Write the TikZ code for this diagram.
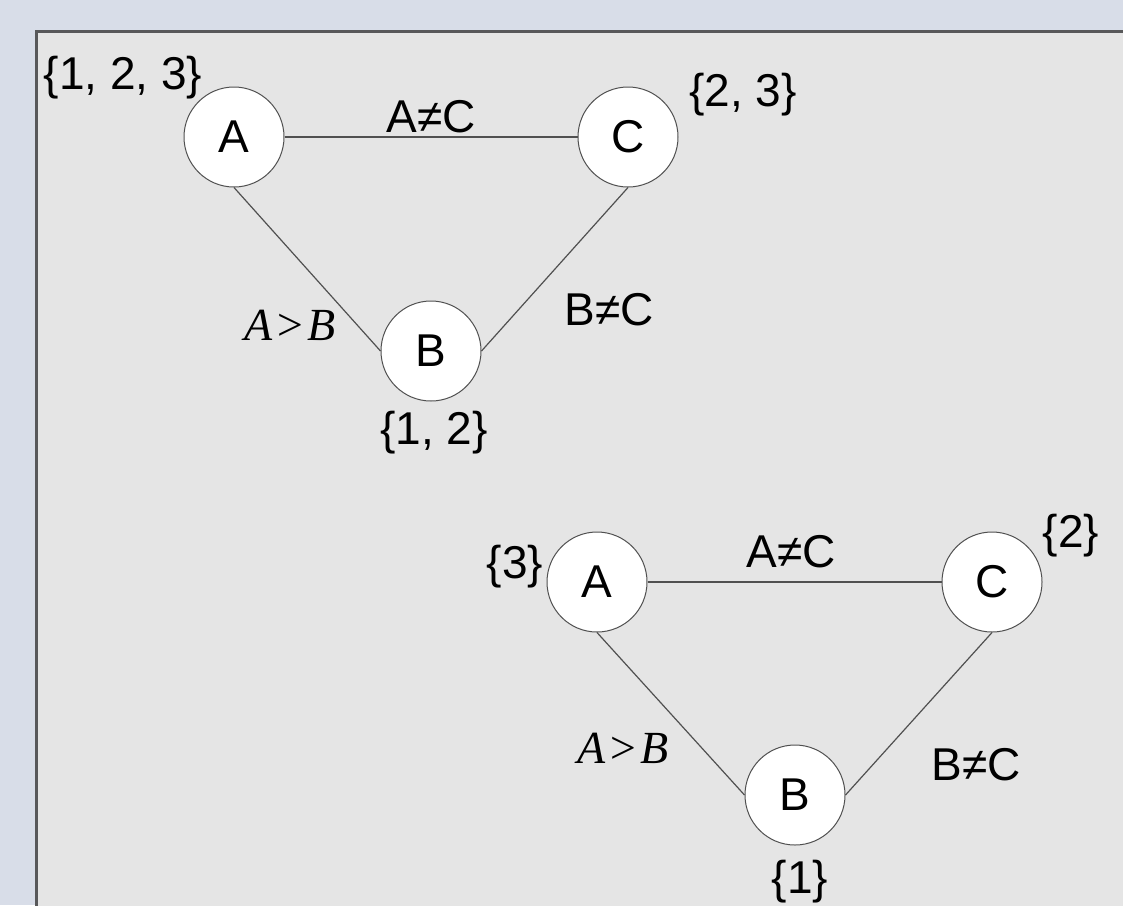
\documentclass[tikz,border=0pt]{standalone}
\usepackage{fontspec}
\setmainfont{Liberation Sans}
\newfontfamily\timesit{Liberation Serif}
\usepackage{tikz}

\definecolor{pagebg}{RGB}{216,221,232}
\definecolor{panelbg}{RGB}{229,229,229}
\definecolor{framegray}{RGB}{88,88,90}
\definecolor{edgegray}{RGB}{80,80,80}

\begin{document}
\begin{tikzpicture}[x=0.5pt,y=-0.5pt,
    var_node/.style={circle,draw=edgegray,fill=white,line width=0.5pt,inner sep=0pt,minimum size=50pt,font=\fontsize{23}{27}\selectfont},
    txt/.style={inner sep=0pt,font=\fontsize{23}{27}\selectfont},
    rel/.style={inner sep=0pt,font=\timesit\itshape\fontsize{23}{27}\selectfont},
    edge/.style={draw=edgegray,line width=0.6pt}]

    \useasboundingbox (0,0) rectangle (1123,905);
    \fill[pagebg] (0,0) rectangle (1123,905);
    \filldraw[fill=panelbg,draw=framegray,line width=1.5pt] (36,31) rectangle (1140,920);

    % first network
    \node[var_node] (a1) at (234, 137) {A};
    \node[var_node] (c1) at (628, 137) {C};
    \node[var_node] (b1) at (431, 351) {B};

    \node[txt] (da1) at (123, 78) {\{1, 2, 3\}};
    \node[txt] (dc1) at (743, 95) {\{2, 3\}};
    \node[txt] (db1) at (434, 433) {\{1, 2\}};
    \node[txt] (ac1) at (431, 117) {A≠C};
    \node[txt] (bc1) at (609, 310) {B≠C};
    \node[rel] (ab1) at (290, 325) {A\kern1pt>\kern1pt B};

    \draw[edge] (a1) -- (c1);
    \draw[edge] (a1.south) -- (b1.west);
    \draw[edge] (c1.south) -- (b1.east);

    % second network
    \node[var_node] (a2) at (597, 582) {A};
    \node[var_node] (c2) at (992, 582) {C};
    \node[var_node] (b2) at (795, 795) {B};

    \node[txt] (da2) at (515, 567) {\{3\}};
    \node[txt] (dc2) at (1071, 536) {\{2\}};
    \node[txt] (db2) at (800, 882) {\{1\}};
    \node[txt] (ac2) at (791, 552) {A≠C};
    \node[txt] (bc2) at (976, 765) {B≠C};
    \node[rel] (ab2) at (623, 748) {A\kern1pt>\kern1pt B};

    \draw[edge] (a2) -- (c2);
    \draw[edge] (a2.south) -- (b2.west);
    \draw[edge] (c2.south) -- (b2.east);

\end{tikzpicture}
\end{document}
